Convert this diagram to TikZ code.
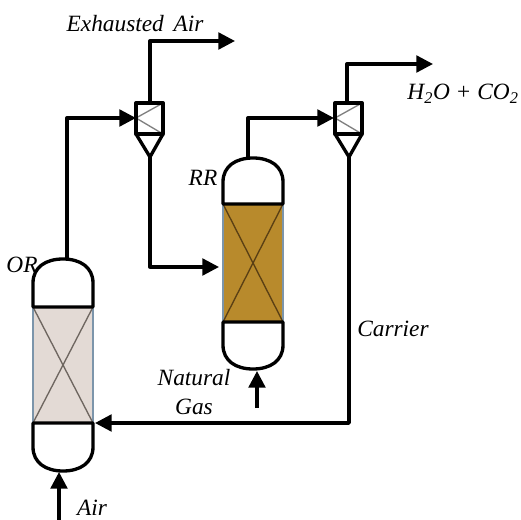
\documentclass[tikz,border=0pt]{standalone}
\usepackage{fontspec}
\setmainfont{Liberation Serif}
\usetikzlibrary{arrows.meta}
\definecolor{orfill}{HTML}{E3DAD5}
\definecolor{rrfill}{HTML}{B88A2C}
\definecolor{wallblue}{HTML}{7C95AB}
\definecolor{crossgray}{HTML}{6E6660}
\definecolor{crossbrown}{HTML}{5A3F14}
\tikzset{
	stream/.style={line width=2.5pt, line join=round, -{Triangle[length=12.5pt,width=12.5pt]}},
	wall/.style={line width=2.5pt, line join=round},
	inner/.style={line width=1pt},
	lab/.style={font=\itshape\fontsize{17.5}{20}\selectfont, inner sep=0pt, align=center},
}
\begin{document}
\begin{tikzpicture}[x=0.75pt,y=-0.75pt]
	\useasboundingbox (0,0) rectangle (521,520);
	% oxidation reactor
	\fill[orfill] (33,307) rectangle (93,423);
	\draw[wallblue, line width=1.4pt] (33,307) -- (33,423);
	\draw[wallblue, line width=1.4pt] (93,307) -- (93,423);
	\draw[inner, crossgray] (33,307) -- (93,423);
	\draw[inner, crossgray] (93,307) -- (33,423);
	\draw[wall] (33,307) -- (33,283) .. controls (33,267) and (46,259) .. (63,259) .. controls (80,259) and (93,267) .. (93,283) -- (93,307) -- cycle;
	\draw[wall] (33,423) -- (33,447) .. controls (33,463) and (46,471) .. (63,471) .. controls (80,471) and (93,463) .. (93,447) -- (93,423) -- cycle;
	% reduction reactor
	\fill[rrfill] (223,204) rectangle (283,322);
	\draw[wallblue, line width=1.4pt] (223,204) -- (223,322);
	\draw[wallblue, line width=1.4pt] (283,204) -- (283,322);
	\draw[inner, crossbrown] (223,204) -- (283,322);
	\draw[inner, crossbrown] (283,204) -- (223,322);
	\draw[wall] (223,204) -- (223,182) .. controls (223,166) and (236,158) .. (253,158) .. controls (270,158) and (283,166) .. (283,182) -- (283,204) -- cycle;
	\draw[wall] (223,322) -- (223,345) .. controls (223,361) and (236,369) .. (253,369) .. controls (270,369) and (283,361) .. (283,345) -- (283,322) -- cycle;
	% cyclones
	\foreach \cx in {150,349}{
		\draw[inner, gray] (\cx-14,118) -- (\cx+13,103);
		\draw[inner, gray] (\cx-14,118) -- (\cx+13,134);
		\draw[wall] (\cx-14,103) rectangle (\cx+13,134);
		\draw[wall] (\cx-14,134) -- (\cx,157) -- (\cx+13,134);
	}
	% ports
	\coordinate (ortop) at (67,259);
	\coordinate (orside) at (95,423);
	\coordinate (orbottom) at (59,472);
	\coordinate (airin) at (59,520);
	\coordinate (rrtop) at (248,158);
	\coordinate (rrside) at (219,267);
	\coordinate (rrbottom) at (257,371);
	\coordinate (gasin) at (257,408);
	\coordinate (cyconein) at (136,118);
	\coordinate (cyconetop) at (150,103);
	\coordinate (cyconeapex) at (150,157);
	\coordinate (cyctwoin) at (334,118);
	\coordinate (cyctwotop) at (347,103);
	\coordinate (cyctwoapex) at (349,157);
	\coordinate (exhaust) at (235,41);
	\coordinate (product) at (433,64);
	% streams
	\draw[stream] (ortop) |- (cyconein);
	\draw[stream] (cyconetop) |- (exhaust);
	\draw[stream] (cyconeapex) |- (rrside);
	\draw[stream] (rrtop) |- (cyctwoin);
	\draw[stream] (cyctwotop) |- (product);
	\draw[stream] (cyctwoapex) |- (orside);
	\draw[stream] (airin) -- (orbottom);
	\draw[stream] (gasin) -- (rrbottom);
	% labels
	\node[lab] (exhaustlabel) at (135,24) {Exhausted\, Air};
	\node[lab] (productlabel) at (463,94) {H\textsubscript{2}O + CO\textsubscript{2}};
	\node[lab] (rrlabel) at (203,178) {RR};
	\node[lab] (orlabel) at (22,265) {OR};
	\node[lab] (carrierlabel) at (393,329) {Carrier};
	\node[lab] (gaslabel) at (194,392) {Natural\\[2pt]Gas};
	\node[lab] (airlabel) at (92,508) {Air};
\end{tikzpicture}
\end{document}
